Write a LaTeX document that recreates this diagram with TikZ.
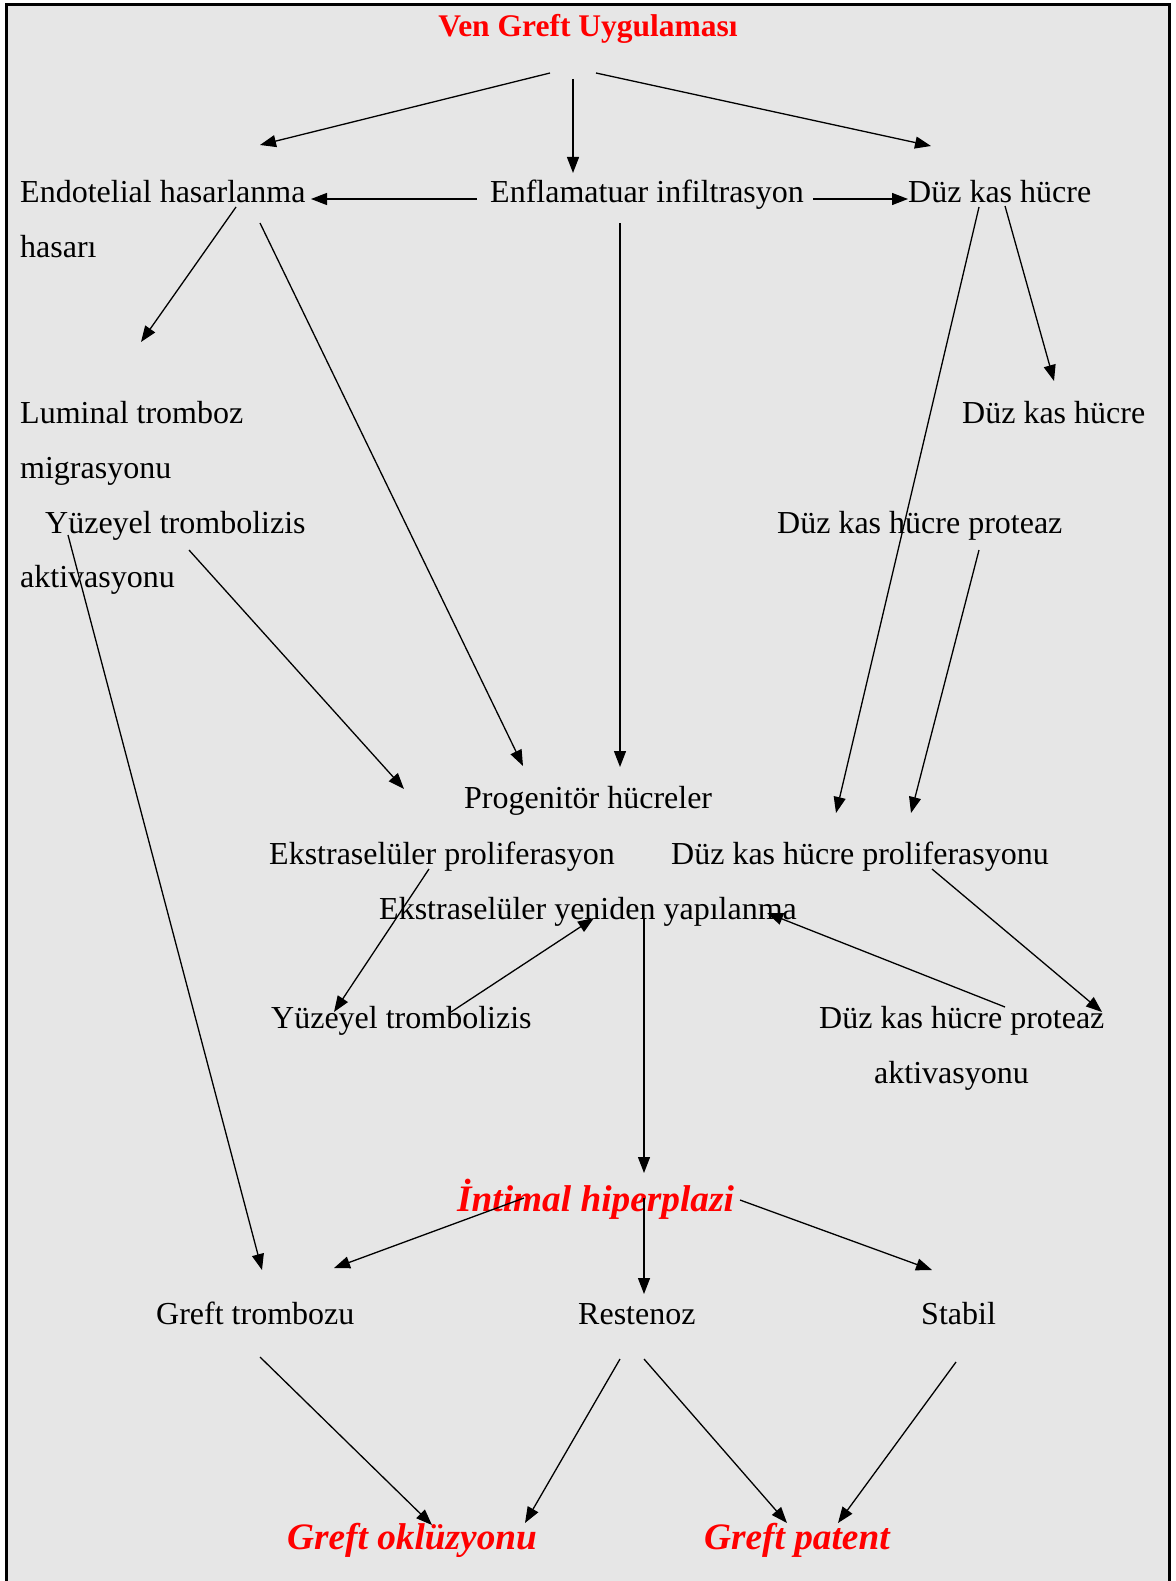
\documentclass[tikz,border=0pt]{standalone}
\usepackage{fontspec}
\setmainfont{Liberation Serif}
\usetikzlibrary{arrows.meta}
\definecolor{bggray}{HTML}{E6E6E6}
\newcommand\bodyfnt{\fontsize{32}{38}\selectfont}
\newcommand\titlefnt{\fontsize{31.5}{36}\selectfont\bfseries}
\newcommand\redfnt{\fontsize{37.3}{42}\selectfont\bfseries\itshape}
\tikzset{
  txt/.style={anchor=base west, inner sep=0pt, font=\bodyfnt, text=black},
  redtxt/.style={anchor=base west, inner sep=0pt, font=\redfnt, text=red},
  titletxt/.style={anchor=base, inner sep=0pt, font=\titlefnt, text=red},
  arr/.style={-{Triangle[length=16pt,width=12pt]}, line width=1.3pt, black},
  frame/.style={line width=2.6pt, black}
}
\begin{document}
\begin{tikzpicture}[x=1pt,y=-1pt]
\useasboundingbox (0,0) rectangle (1175,1581);
\fill[white] (0,0) rectangle (1175,1581);
\fill[bggray] (6,4) rectangle (1169.5,1581);
\draw[frame] (6.2,1581) -- (6.2,4.3) -- (1169.5,4.3) -- (1169.5,1581);

% text nodes
\node[titletxt] (title) at (588,37) {Ven Greft Uygulaması};
\node[txt] (endo) at (20,202) {Endotelial hasarlanma};
\node[txt] (hasari) at (20,257) {hasarı};
\node[txt] (enfl) at (490,202) {Enflamatuar infiltrasyon};
\node[txt] (duz1) at (908,202) {Düz kas hücre};
\node[txt] (lumi) at (20,423) {Luminal tromboz};
\node[txt] (migr) at (20,478) {migrasyonu};
\node[txt] (yuz1) at (45,533) {Yüzeyel trombolizis};
\node[txt] (akt1) at (20,587) {aktivasyonu};
\node[txt] (duz2) at (962,423) {Düz kas hücre};
\node[txt] (duzp1) at (777,533) {Düz kas hücre proteaz};
\node[txt] (prog) at (464,808) {Progenitör hücreler};
\node[txt] (ekspro) at (269,864) {Ekstraselüler proliferasyon};
\node[txt] (duzpro) at (671,864) {Düz kas hücre proliferasyonu};
\node[txt] (eksyen) at (379,919) {Ekstraselüler yeniden yapılanma};
\node[txt] (yuz2) at (271,1028) {Yüzeyel trombolizis};
\node[txt] (duzp2) at (819,1028) {Düz kas hücre proteaz};
\node[txt] (akt2) at (874,1083) {aktivasyonu};
\node[redtxt] (intimal) at (457,1211) {İntimal hiperplazi};
\node[txt] (gtromb) at (156,1324) {Greft trombozu};
\node[txt] (rest) at (578,1324) {Restenoz};
\node[txt] (stabil) at (921,1324) {Stabil};
\node[redtxt] (gokl) at (287,1549) {Greft oklüzyonu};
\node[redtxt] (gpat) at (704,1549) {Greft patent};

% connector end points
\coordinate (t1) at (550,73);   \coordinate (e1) at (260,145);
\coordinate (t2) at (573,79);   \coordinate (e2) at (573,173);
\coordinate (t3) at (596,73);   \coordinate (e3) at (931,146);
\coordinate (f4) at (477,199);  \coordinate (e4) at (311,199);
\coordinate (f5) at (813,199);  \coordinate (e5) at (908,199);
\coordinate (f6) at (236,207);  \coordinate (e6) at (141,342);
\coordinate (f7) at (260,223);  \coordinate (e7) at (523,766);
\coordinate (f8) at (620,223);  \coordinate (e8) at (620,767);
\coordinate (f9) at (1005,206); \coordinate (e9) at (1054,381);
\coordinate (f10) at (979,207); \coordinate (e10) at (836,813);
\coordinate (f11) at (979,550); \coordinate (e11) at (911,813);
\coordinate (f12) at (189,550); \coordinate (e12) at (404,789);
\coordinate (f13) at (68,535);  \coordinate (e13) at (262,1270);
\coordinate (f14) at (429,869); \coordinate (e14) at (334,1012);
\coordinate (f15) at (451,1012);\coordinate (e15) at (594,918);
\coordinate (f16) at (1005,1007);\coordinate (e16) at (767,913);
\coordinate (f17) at (932,869); \coordinate (e17) at (1102,1012);
\coordinate (f18) at (644,918); \coordinate (e18) at (644,1173);
\coordinate (f19) at (524,1198);\coordinate (e19) at (334,1268);
\coordinate (f20) at (644,1198);\coordinate (e20) at (644,1294);
\coordinate (f21) at (740,1200);\coordinate (e21) at (932,1270);
\coordinate (f22) at (260,1357);\coordinate (e22) at (432,1525);
\coordinate (f23) at (620,1359);\coordinate (e23) at (525,1523);
\coordinate (f24) at (644,1359);\coordinate (e24) at (787,1523);
\coordinate (f25) at (956,1362);\coordinate (e25) at (838,1523);

% connectors
\draw[arr] (t1) -- (e1);
\draw[arr] (t2) -- (e2);
\draw[arr] (t3) -- (e3);
\draw[arr] (f4) -- (e4);
\draw[arr] (f5) -- (e5);
\draw[arr] (f6) -- (e6);
\draw[arr] (f7) -- (e7);
\draw[arr] (f8) -- (e8);
\draw[arr] (f9) -- (e9);
\draw[arr] (f10) -- (e10);
\draw[arr] (f11) -- (e11);
\draw[arr] (f12) -- (e12);
\draw[arr] (f13) -- (e13);
\draw[arr] (f14) -- (e14);
\draw[arr] (f15) -- (e15);
\draw[arr] (f16) -- (e16);
\draw[arr] (f17) -- (e17);
\draw[arr] (f18) -- (e18);
\draw[arr] (f19) -- (e19);
\draw[arr] (f20) -- (e20);
\draw[arr] (f21) -- (e21);
\draw[arr] (f22) -- (e22);
\draw[arr] (f23) -- (e23);
\draw[arr] (f24) -- (e24);
\draw[arr] (f25) -- (e25);
\end{tikzpicture}
\end{document}
